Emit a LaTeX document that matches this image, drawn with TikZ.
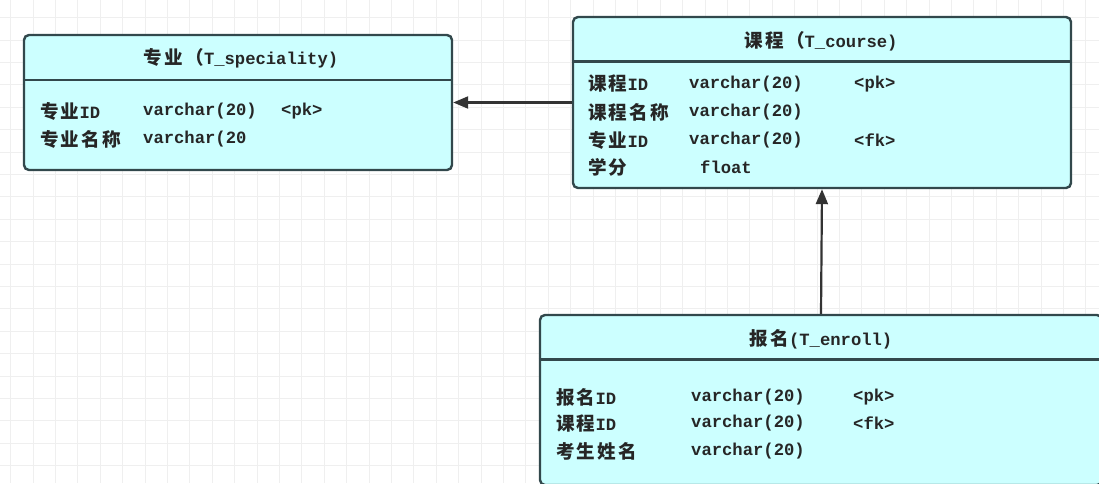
\documentclass[tikz,border=0pt]{standalone}
\usepackage{fontspec}
\setmainfont{Liberation Mono}
\newfontfamily\cjk{Noto Sans CJK SC}[Scale=1.08,LetterSpace=12]
\usetikzlibrary{arrows.meta}
\definecolor{boxfill}{RGB}{204,255,255}
\definecolor{boxline}{RGB}{50,72,76}
\definecolor{gridc}{RGB}{239,239,239}
\newcommand{\zh}[1]{{\cjk #1}}
\begin{document}
\begin{tikzpicture}[x=1pt,y=-1pt,
  font=\fontsize{17.2}{20}\selectfont\bfseries,
  tbl/.style={draw=boxline, fill=boxfill, line width=2.4pt, rounded corners=5pt, inner sep=0pt},
  sep/.style={draw=boxline, line width=2.4pt},
  txt/.style={anchor=west, inner sep=0pt, text=black!85},
  hdr/.style={anchor=center, inner sep=0pt, text=black!85},
  conn/.style={draw=black!80, line width=2.2pt, -{Triangle[length=15pt,width=12pt]}}]
\useasboundingbox (0,0) rectangle (1099,483);
\clip (0,0) rectangle (1099,483);
\fill[white] (0,0) rectangle (1099,483);
% grid
\foreach \i in {0,...,49} \draw[gridc, line width=0.8pt] (10.6+22.4*\i,0) -- ++(0,483);
\foreach \j in {0,...,21} \draw[gridc, line width=0.8pt] (0,17.5+22.4*\j) -- ++(1099,0);

% tables
\node[tbl, minimum width=428pt, minimum height=135pt] (spec) at (238,102.5) {};
\node[tbl, minimum width=498pt, minimum height=171pt] (course) at (822,102.5) {};
\node[tbl, minimum width=562pt, minimum height=170pt] (enroll) at (821,400) {};

\draw[sep] (spec.west |- 0,80) -- (spec.east |- 0,80);
\draw[sep] (course.west |- 0,61.5) -- (course.east |- 0,61.5);
\draw[sep] (enroll.west |- 0,359.5) -- (enroll.east |- 0,359.5);

% speciality
\node[hdr] (spech) at (241,58.5) {\zh{专业（}T\_speciality)};
\node[txt] (s1a) at (40,111.5) {\zh{专业}ID};
\node[txt] (s1b) at (143,111.5) {varchar(20)};
\node[txt] (s1c) at (281,111.5) {<pk>};
\node[txt] (s2a) at (40,139.5) {\zh{专业名称}};
\node[txt] (s2b) at (143,139.5) {varchar(20};

% course
\node[hdr] (courseh) at (821,41) {\zh{课程（}T\_course)};
\node[txt] (c1a) at (588,84) {\zh{课程}ID};
\node[txt] (c1b) at (689,84) {varchar(20)};
\node[txt] (c1c) at (854,84) {<pk>};
\node[txt] (c2a) at (588,112) {\zh{课程名称}};
\node[txt] (c2b) at (689,112) {varchar(20)};
\node[txt] (c3a) at (588,140.5) {\zh{专业}ID};
\node[txt] (c3b) at (689,140.5) {varchar(20)};
\node[txt] (c3c) at (854,140.5) {<fk>};
\node[txt] (c4a) at (588,167.5) {\zh{学分}};
\node[txt] (c4b) at (700,167.5) {float};

% enroll
\node[hdr] (enrollh) at (821,339) {\zh{报名}(T\_enroll)};
\node[txt] (e1a) at (556,397) {\zh{报名}ID};
\node[txt] (e1b) at (691,397) {varchar(20)};
\node[txt] (e1c) at (853,397) {<pk>};
\node[txt] (e2a) at (556,423.5) {\zh{课程}ID};
\node[txt] (e2b) at (691,423.5) {varchar(20)};
\node[txt] (e2c) at (853,423.5) {<fk>};
\node[txt] (e3a) at (556,451.5) {\zh{考生姓名}};
\node[txt] (e3b) at (691,451.5) {varchar(20)};

% connectors
\draw[conn] (course.west) -- (spec.east);
\draw[conn] (enroll.north) -- (course.south);
\end{tikzpicture}
\end{document}
